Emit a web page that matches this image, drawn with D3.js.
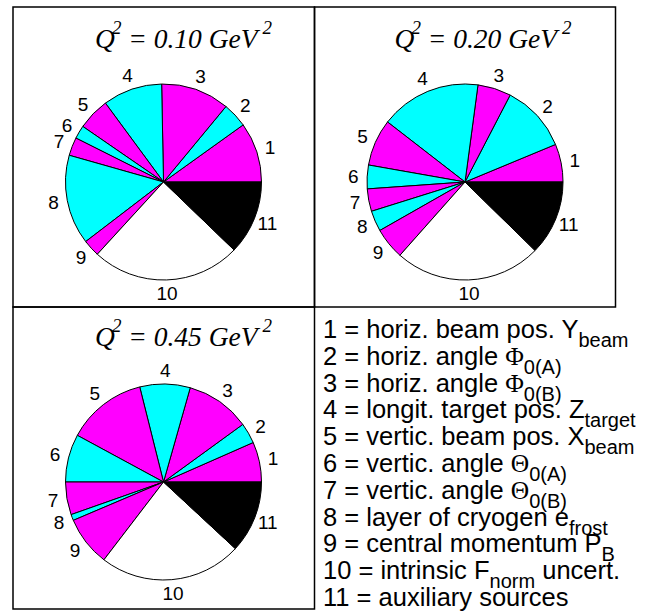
<!DOCTYPE html>
<html><head><meta charset="utf-8">
<script src="https://cdn.jsdelivr.net/npm/d3@7"></script>
<style>html,body{margin:0;padding:0;background:#fff;}</style>
</head><body>
<svg id="c" width="650" height="613"></svg>
<script>
// ---- data ----
const categories = ["1","2","3","4","5","6","7","8","9","10","11"];
const sliceColors = ["#ff00ff","#00ffff","#ff00ff","#00ffff","#ff00ff","#00ffff","#ff00ff","#00ffff","#ff00ff","#ffffff","#000000"];
const q2Labels = ["0.10","0.20","0.45"];
const valuesQ010 = [9.9, 4.1, 11.3, 9.8, 5.3, 2.2, 3.0, 14.8, 2.8, 24.6, 12.2];
const valuesQ020 = [6.25, 11.1, 5.5, 16.6, 7.7, 3.9, 3.7, 3.4, 5.2, 24.2, 12.3];
const valuesQ045 = [6.6, 3.4, 10.6, 8.3, 13.2, 7.9, 5.4, 1.0, 8.2, 23.5, 11.9];
const legendMain = ["1 = horiz. beam pos. Y","2 = horiz. angle ","3 = horiz. angle ","4 = longit. target pos. Z","5 = vertic. beam pos. X","6 = vertic. angle ","7 = vertic. angle ","8 = layer of cryogen e","9 = central momentum P","10 = intrinsic F","11 = auxiliary sources"];
const legendGreek = ["","Φ","Φ","","","Θ","Θ","","","",""];
const legendSub = ["beam","0(A)","0(B)","target","beam","0(A)","0(B)","frost","B","norm",""];
const legendTail = ["","","","","","","","",""," uncert.",""];

// ---- layout ----
const svg = d3.select("#c");
svg.append("rect").attr("width",650).attr("height",613).attr("fill","#fff");

const panels = [
  {x:13, y:7, w:301.5, h:300, vals:valuesQ010, q:q2Labels[0]},
  {x:314.5, y:7, w:301, h:300, vals:valuesQ020, q:q2Labels[1]},
  {x:13, y:307, w:301.5, h:302, vals:valuesQ045, q:q2Labels[2]}
];
const R = 98, labelR = 112;
const pie = d3.pie().sort(null).value(d=>d).startAngle(Math.PI/2).endAngle(-3*Math.PI/2);
const arc = d3.arc().innerRadius(0).outerRadius(R);

panels.forEach((p,i)=>{
  svg.append("rect").attr("x",p.x).attr("y",p.y).attr("width",p.w).attr("height",p.h)
    .attr("fill","none").attr("stroke","#000").attr("stroke-width",1.5);
  const cx = p.x + 150.5, cy = p.y + 175;
  const g = svg.append("g").attr("transform",`translate(${cx},${cy})`);
  const arcs = pie(p.vals);
  g.selectAll("path").data(arcs).enter().append("path")
    .attr("d",arc).attr("fill",(d,j)=>sliceColors[j]).attr("stroke","#000").attr("stroke-width",1)
    .attr("stroke-linejoin","round");
  g.selectAll("text.lab").data(arcs).enter().append("text").attr("class","lab")
    .attr("x",d=>{const a=(d.startAngle+d.endAngle)/2; return labelR*Math.sin(a);})
    .attr("y",d=>{const a=(d.startAngle+d.endAngle)/2; return -labelR*Math.cos(a);})
    .attr("text-anchor","middle").attr("dominant-baseline","central")
    .attr("font-family","Liberation Sans, Arial, sans-serif").attr("font-size",19)
    .text((d,j)=>categories[j]);
  // title
  const t = svg.append("text").attr("x",p.x+(i===1?80:82)).attr("y",p.y+(i===2?39:41))
    .attr("font-family","Liberation Serif, Times New Roman, serif").attr("font-style","italic")
    .attr("font-size",27.5).attr("fill","#000");
  t.append("tspan").text("Q");
  t.append("tspan").attr("font-size",19).attr("dx",-3).attr("dy",-14).text("2");
  t.append("tspan").attr("dy",14).text(" = " + p.q + " GeV");
  t.append("tspan").attr("font-size",19).attr("dx",5).attr("dy",-14).text("2");
});

// legend
const lg = svg.append("g").attr("font-family","Liberation Sans, Arial, sans-serif").attr("fill","#000");
const lx = 323, ly0 = 338, lstep = 26.8;
legendMain.forEach((m,i)=>{
  const t = lg.append("text").attr("x",lx).attr("y",ly0+i*lstep).attr("font-size",25.5);
  t.append("tspan").text(m);
  if (legendGreek[i]) t.append("tspan").attr("font-family","Liberation Serif, serif").text(legendGreek[i]);
  if (legendSub[i]) t.append("tspan").attr("font-size",20).attr("dy",9).text(legendSub[i]);
  if (legendTail[i]) t.append("tspan").attr("dy",-9).text(legendTail[i]);
});
</script>
</body></html>
